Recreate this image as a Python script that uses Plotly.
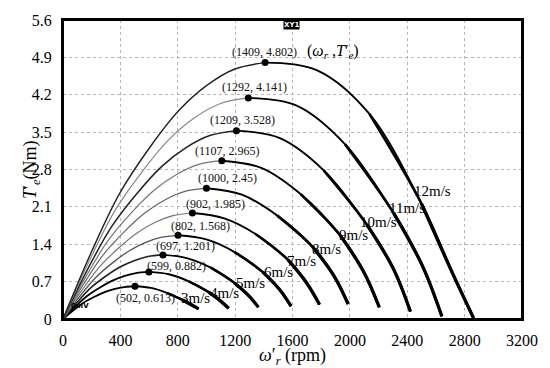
import plotly.graph_objects as go

speeds = ["3m/s", "4m/s", "5m/s", "6m/s", "7m/s", "8m/s", "9m/s", "10m/s", "11m/s", "12m/s"]

# rising branch (origin -> peak)
rise_x = [
    [0, 70, 141, 216, 286, 356, 427, 502],
    [0, 84, 168, 258, 341, 425, 509, 599],
    [0, 98, 195, 300, 397, 495, 592, 697],
    [0, 112, 225, 345, 457, 569, 682, 802],
    [0, 126, 253, 388, 514, 640, 767, 902],
    [0, 140, 280, 430, 570, 710, 850, 1000],
    [0, 155, 310, 476, 631, 786, 941, 1107],
    [0, 169, 339, 520, 689, 858, 1028, 1209],
    [0, 181, 362, 556, 736, 917, 1098, 1292],
    [0, 197, 395, 606, 803, 1000, 1198, 1409],
]
rise_y = [
    [0, 0.159, 0.300, 0.411, 0.497, 0.558, 0.598, 0.613],
    [0, 0.229, 0.432, 0.591, 0.714, 0.803, 0.860, 0.882],
    [0, 0.312, 0.588, 0.805, 0.973, 1.093, 1.171, 1.201],
    [0, 0.408, 0.768, 1.051, 1.270, 1.427, 1.529, 1.568],
    [0, 0.516, 0.973, 1.330, 1.608, 1.806, 1.935, 1.985],
    [0, 0.637, 1.201, 1.642, 1.985, 2.230, 2.389, 2.450],
    [0, 0.771, 1.453, 1.987, 2.402, 2.698, 2.891, 2.965],
    [0, 0.917, 1.729, 2.364, 2.858, 3.210, 3.440, 3.528],
    [0, 1.077, 2.029, 2.774, 3.354, 3.768, 4.037, 4.141],
    [0, 1.249, 2.353, 3.217, 3.890, 4.370, 4.682, 4.802],
]
# falling branch (peak -> end)
fall_x = [
    [502, 613, 724, 834, 901, 945],
    [599, 738, 877, 1016, 1099, 1155],
    [697, 863, 1030, 1196, 1296, 1362],
    [802, 999, 1196, 1393, 1511, 1590],
    [902, 1124, 1345, 1567, 1699, 1788],
    [1000, 1247, 1494, 1741, 1889, 1988],
    [1107, 1382, 1656, 1931, 2095, 2205],
    [1209, 1512, 1816, 2119, 2301, 2422],
    [1292, 1629, 1967, 2304, 2506, 2641],
    [1409, 1772, 2136, 2499, 2717, 2862],
]
fall_y = [
    [0.613, 0.582, 0.490, 0.356, 0.257, 0.19],
    [0.882, 0.838, 0.706, 0.503, 0.335, 0.20],
    [1.201, 1.141, 0.961, 0.673, 0.432, 0.22],
    [1.568, 1.490, 1.254, 0.878, 0.549, 0.24],
    [1.985, 1.886, 1.588, 1.112, 0.675, 0.27],
    [2.450, 2.328, 1.936, 1.348, 0.809, 0.28],
    [2.965, 2.832, 2.342, 1.571, 0.890, 0.22],
    [3.528, 3.387, 2.787, 1.764, 0.953, 0.14],
    [4.141, 3.996, 3.271, 1.988, 0.994, 0.05],
    [4.802, 4.658, 3.842, 2.161, 0.850, 0.02],
]
peak_x = [502, 599, 697, 802, 902, 1000, 1107, 1209, 1292, 1409]
peak_y = [0.613, 0.882, 1.201, 1.568, 1.985, 2.45, 2.965, 3.528, 4.141, 4.802]
peak_text = ["(502, 0.613)", "(599, 0.882)", "(697, 1.201)", "(802, 1.568)", "(902, 1.985)",
             "(1000, 2.45)", "(1107, 2.965)", "(1209, 3.528)", "(1292, 4.141)", "(1409, 4.802)"]

x_ticks = [0, 400, 800, 1200, 1600, 2000, 2400, 2800, 3200]
y_ticks = [0, 0.7, 1.4, 2.1, 2.8, 3.5, 4.2, 4.9, 5.6]
y_ticktext = ["0", "0.7", "1.4", "2.1", "2.8", "3.5", "4.2", "4.9", "5.6"]

# styling (not data)
rise_col = ["#000", "#000", "#222", "#555", "#777", "#666", "#777", "#222", "#888", "#222"]
rise_w = [1.8, 1.8, 1.6, 1.3, 1.2, 1.2, 1.2, 1.5, 1.2, 1.4]
peak_shift = [(10, -12), (28, 6), (23, 9), (22, 9), (23, 9), (21, 10), (6, 10), (6, 11), (6, 11), (-1, 11)]
speed_pos = [(922, 0.386), (1129, 0.496), (1308, 0.679), (1500, 0.881), (1665, 1.083),
             (1837, 1.304), (2023, 1.579), (2202, 1.818), (2395, 2.075), (2574, 2.405)]

SERIF = "Liberation Serif"
fig = go.Figure()
for i in range(len(speeds)):
    fig.add_trace(go.Scatter(x=rise_x[i], y=rise_y[i], mode="lines",
                             line=dict(color=rise_col[i], width=rise_w[i], shape="spline"),
                             showlegend=False, hoverinfo="skip"))
    fig.add_trace(go.Scatter(x=fall_x[i], y=fall_y[i], mode="lines",
                             line=dict(color="black", width=1.9, shape="spline"),
                             showlegend=False, hoverinfo="skip"))
    fig.add_trace(go.Scatter(x=fall_x[i][2:], y=fall_y[i][2:], mode="lines",
                             line=dict(color="black", width=2.6, shape="spline"),
                             showlegend=False, hoverinfo="skip"))
    fig.add_trace(go.Scatter(x=fall_x[i][3:], y=fall_y[i][3:], mode="lines",
                             line=dict(color="black", width=3.3, shape="spline"),
                             showlegend=False, hoverinfo="skip"))

fig.add_trace(go.Scatter(x=peak_x, y=peak_y, mode="markers",
                         marker=dict(color="black", size=7), showlegend=False, hoverinfo="skip"))

ann = []
for i in range(len(speeds)):
    ann.append(dict(x=peak_x[i], y=peak_y[i], text=peak_text[i], showarrow=False,
                    xshift=peak_shift[i][0], yshift=peak_shift[i][1],
                    font=dict(family=SERIF, size=12, color="#111")))
    ann.append(dict(x=speed_pos[i][0], y=speed_pos[i][1], text=speeds[i], showarrow=False,
                    font=dict(family=SERIF, size=15, color="black")))

ann.append(dict(x=1686, y=5.01, xanchor="left", showarrow=False,
                text="(<i>ω<sub>r</sub></i> ,<i>T</i>′<sub><i>e</i></sub>)",
                font=dict(family=SERIF, size=16, color="black")))
ann.append(dict(xref="paper", yref="paper", x=0.497, y=1, yanchor="top", showarrow=False,
                text="<b>XY1</b>", bgcolor="black", borderpad=0,
                font=dict(family="DejaVu Sans", size=7, color="white")))
ann.append(dict(xref="paper", yref="paper", x=0.014, y=0.024, xanchor="left", showarrow=False,
                text="<b>0mV</b>", font=dict(family="DejaVu Sans", size=7, color="black")))
ann.append(dict(xref="paper", yref="paper", x=0.5, y=0, yanchor="top", yshift=-24, showarrow=False,
                text="<i>ω</i>′<sub><i>r</i></sub> (rpm)",
                font=dict(family=SERIF, size=18, color="black")))
ann.append(dict(xref="paper", yref="paper", x=0, y=0.5, xshift=-45, showarrow=False, textangle=-90,
                text="<i>T</i>′<sub><i>e</i></sub>(Nm)",
                font=dict(family=SERIF, size=18, color="black")))

fig.update_layout(
    width=550, height=368,
    margin=dict(l=63, r=22, t=14, b=49),
    plot_bgcolor="white", paper_bgcolor="white",
    annotations=ann,
    shapes=[dict(type="rect", xref="paper", yref="paper", x0=0, y0=0, x1=1, y1=1,
                 line=dict(color="black", width=2), layer="above")],
)
fig.update_xaxes(range=[0, 3200], tickvals=x_ticks, showgrid=True, gridcolor="#b5b5b5", griddash="dot",
                 gridwidth=1, showline=True, linecolor="black", linewidth=2, mirror=True,
                 zeroline=False, ticks="", ticklabelstandoff=6,
                 tickfont=dict(family=SERIF, size=16, color="black"))
fig.update_yaxes(range=[0, 5.6], tickvals=y_ticks, ticktext=y_ticktext, showgrid=True, gridcolor="#b5b5b5",
                 griddash="dot", gridwidth=1, showline=True, linecolor="black", linewidth=2, mirror=True,
                 zeroline=False, ticks="", ticklabelstandoff=6,
                 tickfont=dict(family=SERIF, size=16, color="black"))

fig.write_html("out.html", config={"displayModeBar": False},
               post_script="document.body.style.margin='0';document.body.style.padding='0';")
